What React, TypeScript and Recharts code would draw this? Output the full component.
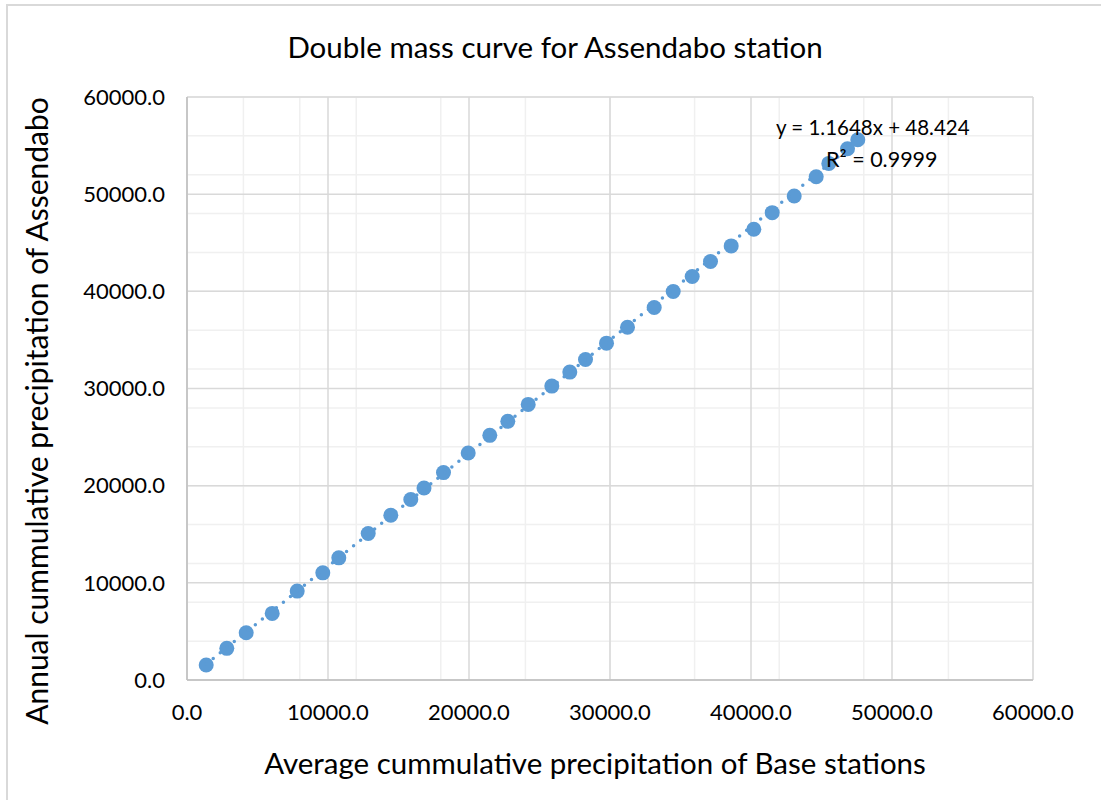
import React from "react";
import { ScatterChart, Scatter, XAxis, YAxis, CartesianGrid } from "recharts";

// average cumulative precipitation of base stations
const baseCum = [
  1362, 2823, 4199, 6043, 7816, 9631, 10766, 12851, 14454, 15872, 16809,
  18191, 19943, 21475, 22752, 24199, 25872, 27149, 28262, 29752, 31241,
  33135, 34482, 35830, 37128, 38596, 40199, 41504, 43064, 44624, 45518,
  46844, 47574,
];

// annual cumulative precipitation of Assendabo
const assendaboCum = [
  1542, 3258, 4861, 6855, 9147, 11028, 12569, 15077, 16958, 18571, 19764,
  21346, 23361, 25180, 26619, 28366, 30247, 31686, 32991, 34666, 36310,
  38335, 39979, 41521, 43063, 44676, 46383, 48099, 49815, 51799, 53166,
  54676, 55601,
];

const majorTicks = [0, 10000, 20000, 30000, 40000, 50000, 60000];
const slope = 1.1648;
const intercept = 48.424;

const points = baseCum.map((x, i) => ({ x, y: assendaboCum[i] }));
const xMin = Math.min(...baseCum);
const xMax = Math.max(...baseCum);
const trend = [xMin, xMax].map((x) => ({ x, y: slope * x + intercept }));

const minorTicks: number[] = [];
for (let v = 0; v <= 60000; v += 2000) minorTicks.push(v);

const FONT = "Lato, 'Open Sans', sans-serif";
const BLUE = "#5B9BD5";

export default function App() {
  return (
    <div style={{ position: "absolute", left: 0, top: 0, width: 1101, height: 800, overflow: "hidden", background: "#fff", fontFamily: FONT }}>
      <div style={{ position: "absolute", left: 6, top: 4, width: 1200, height: 900, borderTop: "2px solid #D9D9D9", borderLeft: "2px solid #D9D9D9" }} />
      <div style={{ position: "absolute", left: 0, width: 1110, top: 32, lineHeight: 1, textAlign: "center", fontSize: 29.5, color: "#000" }}>
        Double mass curve for Assendabo station
      </div>
      <ScatterChart width={1101} height={800} margin={{ top: 97, right: 68, bottom: 80, left: 87 }}>
        <CartesianGrid stroke="#F0F0F0" strokeWidth={1.5} horizontalValues={minorTicks} verticalValues={minorTicks} />
        <CartesianGrid stroke="#D9D9D9" strokeWidth={1.5} horizontalValues={majorTicks} verticalValues={majorTicks} />
        <XAxis
          type="number"
          dataKey="x"
          domain={[0, 60000]}
          ticks={majorTicks}
          height={40}
          tickLine={false}
          tickSize={0}
          tickMargin={24}
          stroke="#BFBFBF"
          strokeWidth={1.5}
          tickFormatter={(v: number) => v.toFixed(1)}
          tick={{ fill: "#000", fontSize: 22, fontFamily: FONT }}
        />
        <YAxis
          type="number"
          dataKey="y"
          domain={[0, 60000]}
          ticks={majorTicks}
          width={100}
          tickLine={false}
          tickSize={0}
          tickMargin={22}
          stroke="#BFBFBF"
          strokeWidth={1.5}
          tickFormatter={(v: number) => v.toFixed(1)}
          tick={{ fill: "#000", fontSize: 22, fontFamily: FONT }}
        />
        <Scatter data={points} fill={BLUE} isAnimationActive={false} shape={(p: any) => <circle cx={p.cx} cy={p.cy} r={7.5} fill={BLUE} />} />
        <Scatter
          data={trend}
          isAnimationActive={false}
          line={{ stroke: BLUE, strokeWidth: 3.5, strokeDasharray: "0 9", strokeLinecap: "round" }}
          shape={() => <g />}
        />
      </ScatterChart>
      <div style={{ position: "absolute", left: 776, top: 117, lineHeight: 1, fontSize: 20.5, color: "#000", whiteSpace: "nowrap" }}>
        y = 1.1648x + 48.424
      </div>
      <div style={{ position: "absolute", left: 826, top: 149, lineHeight: 1, fontSize: 21.5, color: "#000", whiteSpace: "nowrap" }}>
        R² = 0.9999
      </div>
      <div style={{ position: "absolute", left: 0, width: 1190, top: 748, lineHeight: 1, textAlign: "center", fontSize: 29.5, color: "#000" }}>
        Average cummulative precipitation of Base stations
      </div>
      <div
        style={{
          position: "absolute",
          left: 36,
          top: 411,
          lineHeight: 1,
          transform: "translate(-50%, -50%) rotate(-90deg)",
          fontSize: 30,
          color: "#000",
          whiteSpace: "nowrap",
        }}
      >
        Annual cummulative precipitation of Assendabo
      </div>
    </div>
  );
}
